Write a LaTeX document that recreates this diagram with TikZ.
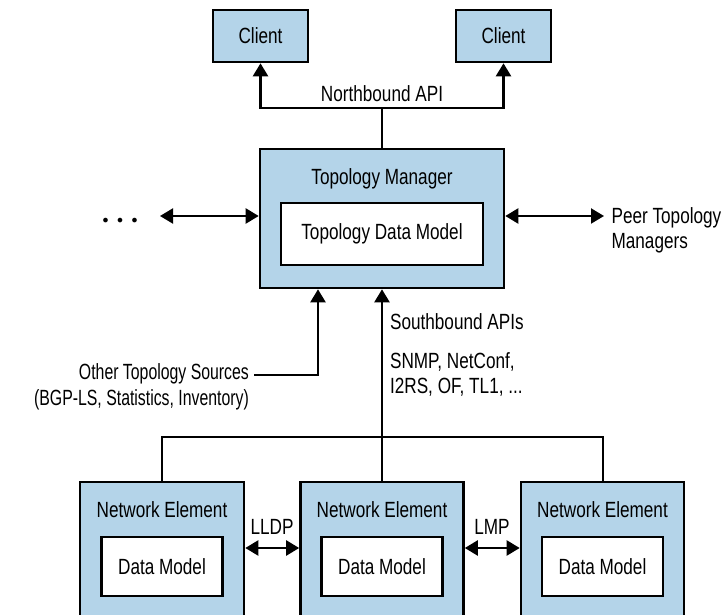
\documentclass[tikz,border=0pt]{standalone}
\usepackage{fontspec}
\setmainfont{Liberation Sans}[FakeStretch=0.78]
\newfontfamily\dotfont{DejaVu Sans}
\usetikzlibrary{arrows.meta}
\definecolor{boxblue}{RGB}{180,212,233}
\begin{document}
\begin{tikzpicture}[
x=1pt, y=-1pt,
font=\fontsize{22}{25}\selectfont,
>={Triangle[width=15pt,length=13pt]},
line width=2.2pt
]

\tikzstyle{b} = [draw, fill=boxblue, line width=2.6pt]
\tikzstyle{w} = [draw, fill=white, line width=2.6pt]
\tikzstyle{t} = [inner sep=0pt]
\tikzstyle{bus} = [line width=2pt]

\path[use as bounding box] (0,0) rectangle (724,615);
\clip (0,0) rectangle (724,615);

\node[b, minimum width=95pt, minimum height=52pt] (cl1) at (260.5,36) {Client};
\node[b, minimum width=95pt, minimum height=52pt] (cl2) at (503.5,36) {Client};

\node[b, minimum width=244pt, minimum height=139pt] (tm) at (382,218.5) {};
\node[t] (tmname) at (382,179) {Topology Manager};
\node[w, minimum width=202pt, minimum height=62pt] (tdm) at (382,234) {Topology Data Model};

\node[b, minimum width=164pt, minimum height=150pt] (ne1) at (162,557) {};
\node[b, minimum width=163pt, minimum height=150pt] (ne2) at (382,557) {};
\node[b, minimum width=163pt, minimum height=150pt] (ne3) at (602.5,557) {};
\node[t] (ne1name) at (162,510) {Network Element};
\node[t] (ne2name) at (382,510) {Network Element};
\node[t] (ne3name) at (602.5,510) {Network Element};
\node[w, minimum width=121pt, minimum height=59pt] (dm1) at (162,566.5) {Data Model};
\node[w, minimum width=121pt, minimum height=59pt] (dm2) at (382,566.5) {Data Model};
\node[w, minimum width=121pt, minimum height=59pt] (dm3) at (602.5,566.5) {Data Model};

\coordinate (nb) at (382,108);
\draw[->] (tm.north) -- (nb) -| (cl1.south);
\draw[->] (nb) -| (cl2.south);
\node[t] (nblabel) at (382,94) {Northbound API};

\node[t, font=\dotfont\fontsize{16}{16}\selectfont] (dots) at (120,222) {• • •};
\coordinate (la) at (160,216);
\draw[<->] (la) -- (la -| tm.west);
\coordinate (ra) at (604,216);
\draw[<->] (ra -| tm.east) -- (ra);
\node[t, anchor=west, align=left] (peer) at (610.5,230) {Peer Topology\\Managers};

\node[t, anchor=north east, align=right, font=\fontsize{22}{26}\selectfont\addfontfeatures{FakeStretch=0.72}] (other) at (250,362) {Other Topology Sources\\(BGP-LS, Statistics, Inventory)};
\coordinate (os) at (254,375);
\draw[->] (os) -| ([xshift=-64pt]tm.south);

\coordinate (bus) at (382,437);
\draw[bus] (ne1.north) |- (bus) -| (ne3.north);
\draw[->] (ne2.north) -- (tm.south);
\node[t, anchor=west] (sb) at (389,322) {Southbound APIs};
\node[t, anchor=west, align=left] (proto) at (389,374) {SNMP, NetConf,\\I2RS, OF, TL1, ...};

\draw[<->] ([yshift=9pt]ne1.east) -- ([yshift=9pt]ne2.west);
\draw[<->] ([yshift=9pt]ne2.east) -- ([yshift=9pt]ne3.west);
\node[t] (lldp) at (272,527) {LLDP};
\node[t] (lmp) at (492,527) {LMP};
\end{tikzpicture}
\end{document}
